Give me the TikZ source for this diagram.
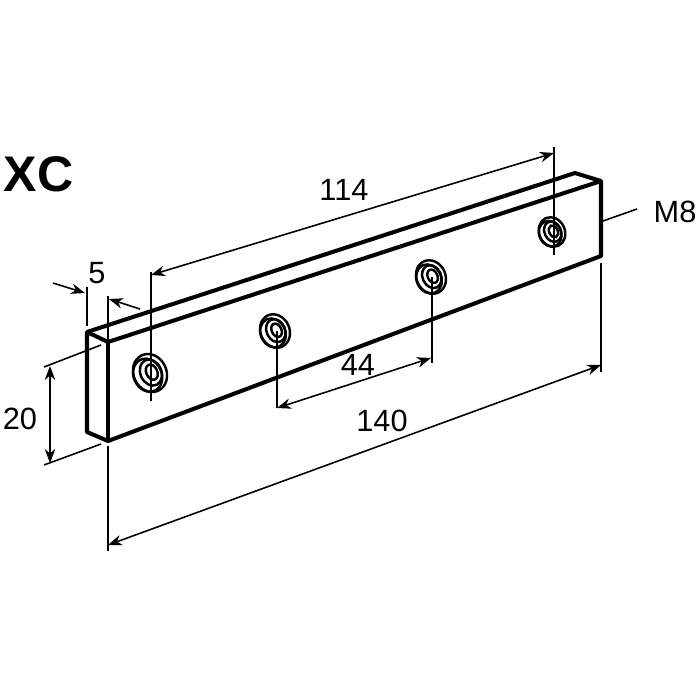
\documentclass[tikz,border=0pt]{standalone}
\usepackage{fontspec}
\setmainfont{Liberation Sans}
\usetikzlibrary{arrows.meta}
\tikzset{
  bar/.style={line width=2.3pt,line join=round},
  dimline/.style={line width=0.9pt},
  dimarrow/.style={line width=0.9pt,-{Stealth[length=8pt,width=6pt]}},
  dimboth/.style={line width=0.9pt,{Stealth[length=8pt,width=6pt]}-{Stealth[length=8pt,width=6pt]}},
  dimtext/.style={font=\fontsize{17.5}{17.5}\selectfont,inner sep=0pt},
  ring/.style={line width=1.4pt},
}
\begin{document}
\begin{tikzpicture}[x=0.02cm,y=-0.02cm]
    \useasboundingbox (0,0) rectangle (700,700);

    % bar corners
    \coordinate (backleft) at (87,332);
    \coordinate (frontleft) at (108,342);
    \coordinate (frontbottom) at (108,441);
    \coordinate (backbottom) at (87,432);
    \coordinate (frontright) at (601,181);
    \coordinate (bottomright) at (601,256);
    \coordinate (backright) at (575,173);

    \draw[bar] (backbottom)--(backleft)--(backright)--(frontright)--(bottomright)--(frontbottom)--cycle;
    \draw[bar] (backleft)--(frontleft)--(frontright);
    \draw[bar] (frontleft)--(frontbottom);

    % holes
    \foreach \name/\hx/\hy/\hs in {holea/150/373/1, holeb/275/331/0.88, holec/431/277/0.88, holed/552/232/0.78}{
        \coordinate (\name) at (\hx,\hy);
        \begin{scope}[shift={(\name)},rotate=25,scale=\hs]
            \draw[ring] (0,0) ellipse [x radius=16.5,y radius=19.5];
            \draw[ring] (-3,1) ellipse [x radius=14,y radius=17];
            \draw[ring] (1,0) ellipse [x radius=10.5,y radius=13.5];
            \draw[ring] (2,0) ellipse [x radius=5.5,y radius=8];
        \end{scope}
    }

    % dimension end points
    \coordinate (la) at (87,287);
    \coordinate (lb) at (87,326);
    \coordinate (ra) at (108,296);
    \coordinate (rb) at (108,551);
    \coordinate (rc) at (108,446);
    \coordinate (five1) at (53,283);
    \coordinate (five1e) at (85,293);
    \coordinate (five2) at (140,309);
    \coordinate (five2e) at (109,299);
    \coordinate (ha) at (151,272);
    \coordinate (hb) at (151,401);
    \coordinate (hc) at (554,147);
    \coordinate (hd) at (554,255);
    \coordinate (ta) at (151,275);
    \coordinate (tb) at (554,153);
    \coordinate (fa) at (277,331);
    \coordinate (fb) at (277,408);
    \coordinate (fc) at (432,277);
    \coordinate (fd) at (432,363);
    \coordinate (fe) at (431,358);
    \coordinate (ea) at (108,545);
    \coordinate (eb) at (601,365);
    \coordinate (ec) at (601,263);
    \coordinate (ed) at (601,372);
    \coordinate (wa) at (44,367);
    \coordinate (wb) at (101,345);
    \coordinate (wc) at (44,465);
    \coordinate (wd) at (101,444);
    \coordinate (va) at (50,366);
    \coordinate (vb) at (50,463);
    \coordinate (ma) at (603,221);
    \coordinate (mb) at (637,209);

    \draw[dimline] (la)--(lb);
    \draw[dimline] (ra)--(rb |- frontleft);
    \draw[dimline] (rc)--(rb);
    \draw[dimarrow] (five1)--(five1e);
    \draw[dimarrow] (five2)--(five2e);

    \draw[dimline] (ha)--(hb);
    \draw[dimline] (hc)--(hd);
    \draw[dimboth] (ta)--(tb);

    \draw[dimline] (fa)--(fb);
    \draw[dimline] (fc)--(fd);
    \draw[dimboth] (fb)--(fe);

    \draw[dimboth] (ea)--(eb);
    \draw[dimline] (ec)--(ed);

    \draw[dimline] (wa)--(wb);
    \draw[dimline] (wc)--(wd);
    \draw[dimboth] (va)--(vb);

    \draw[dimline] (ma)--(mb);

    % labels
    \node[inner sep=0pt,font=\fontsize{28.5}{28.5}\selectfont\bfseries] (title) at (38.5,174) {XC};
    \node[dimtext] (lenhole) at (344,190) {114};
    \node[dimtext] (lenthick) at (97,273) {5};
    \node[dimtext] (lenhigh) at (20,419) {20};
    \node[dimtext] (lenpitch) at (358,365) {44};
    \node[dimtext] (lenall) at (382,421) {140};
    \node[dimtext] (thread) at (675,212) {M8};
\end{tikzpicture}
\end{document}
